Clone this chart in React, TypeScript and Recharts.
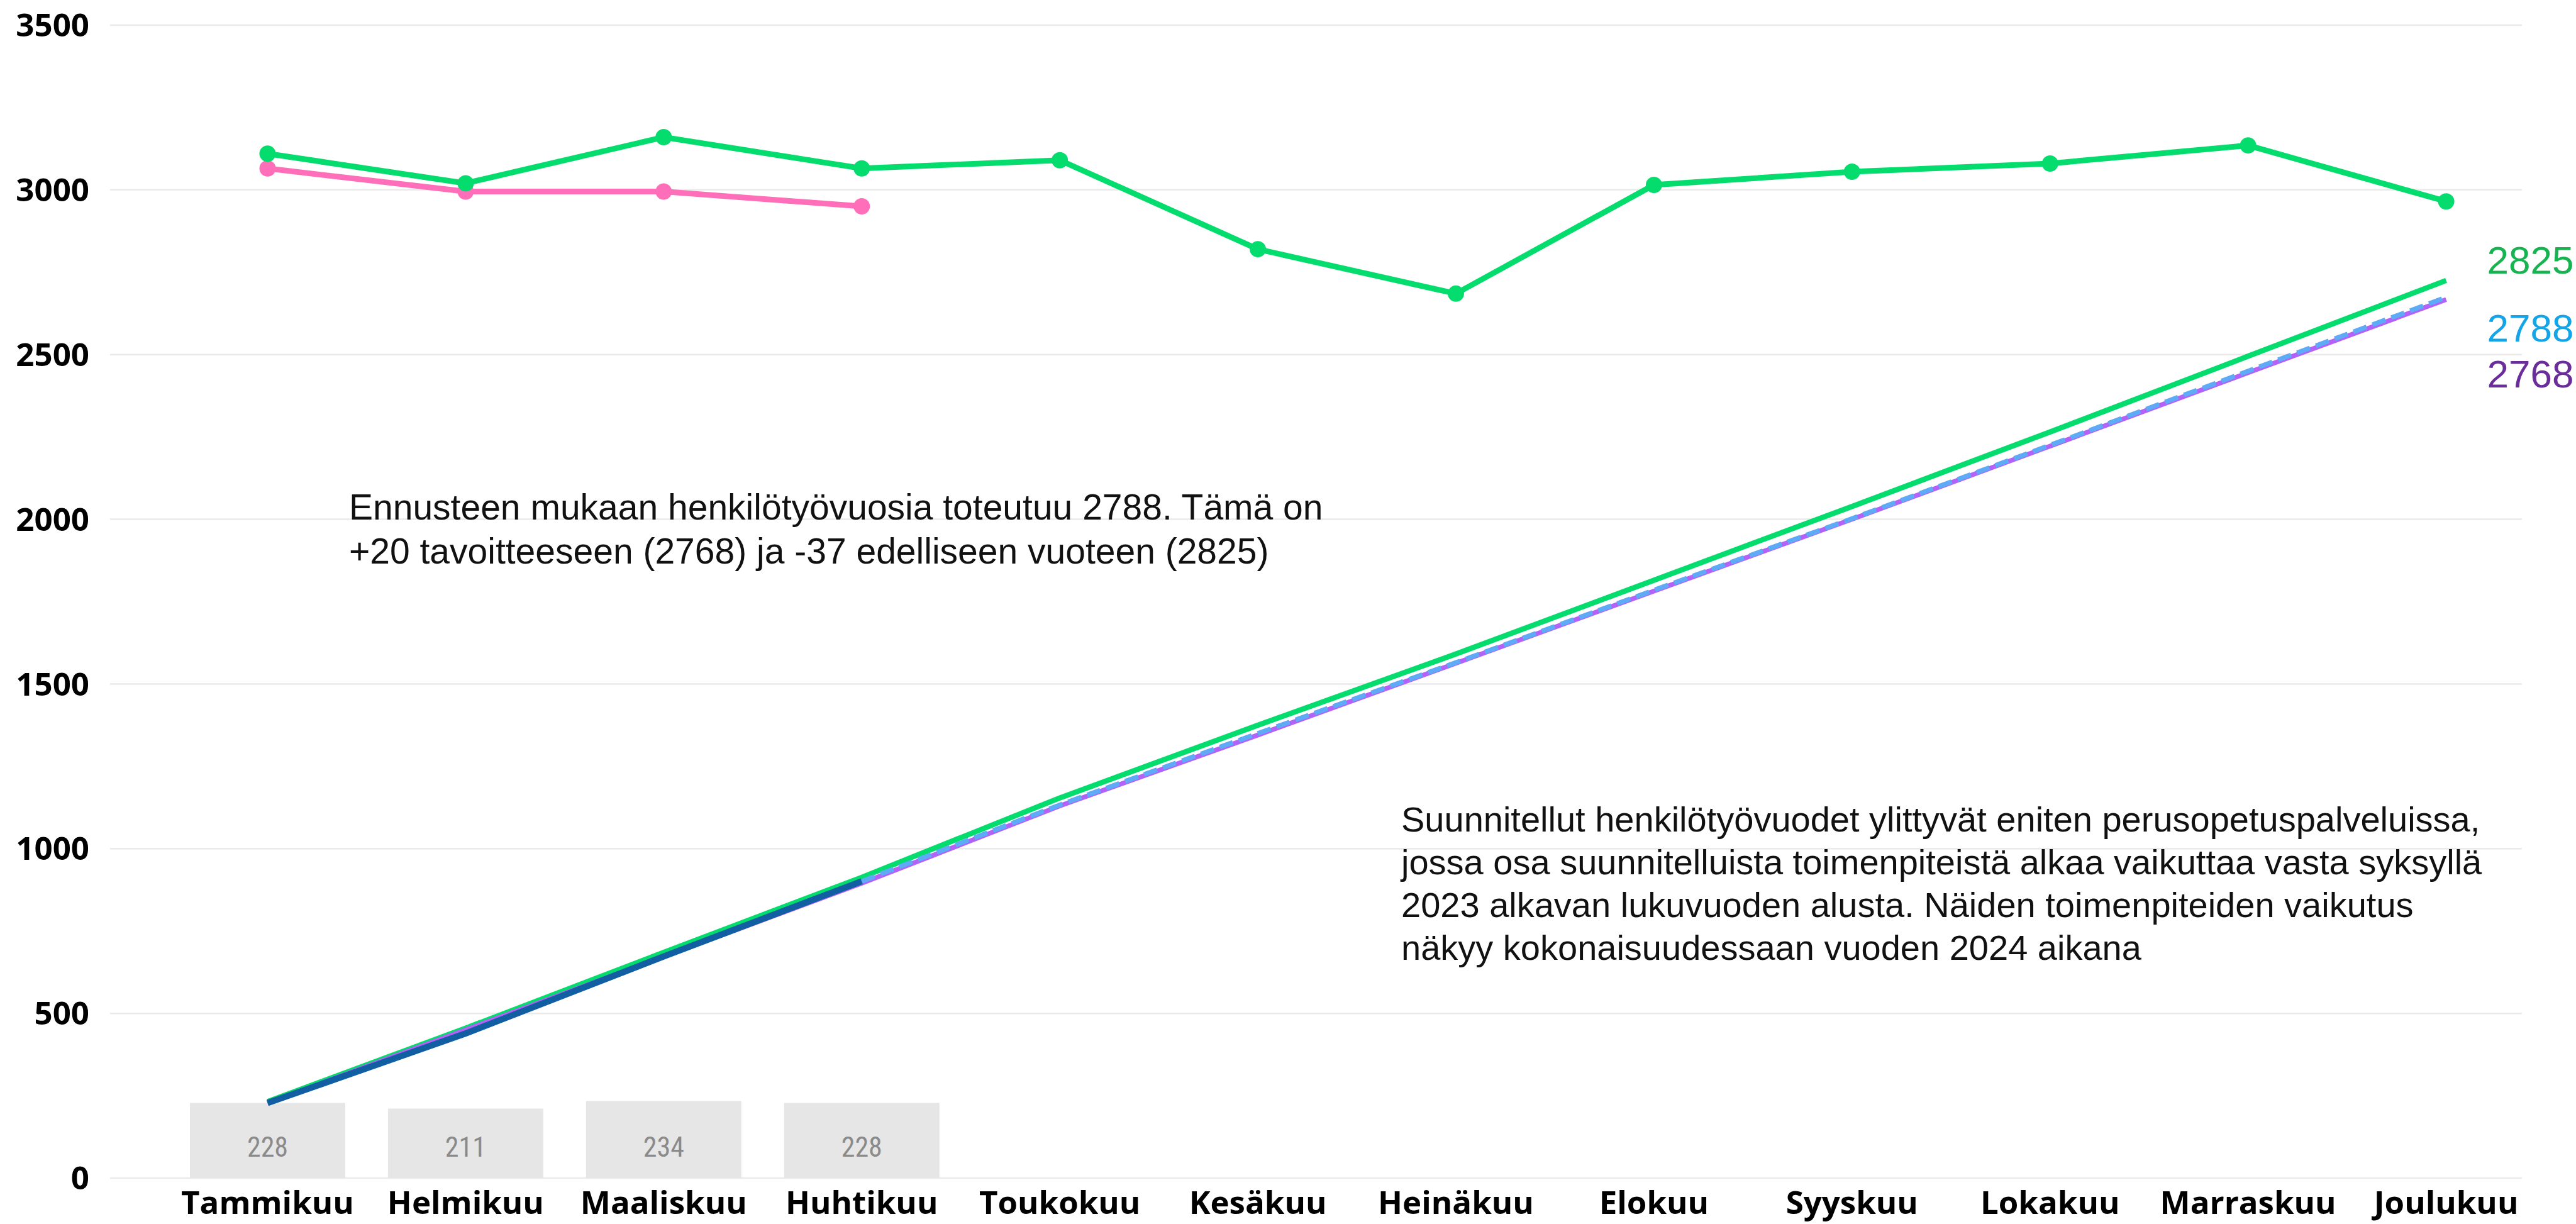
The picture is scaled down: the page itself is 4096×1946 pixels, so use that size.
import React from 'react';
import {
  ComposedChart, Bar, Line, XAxis, YAxis, CartesianGrid, LabelList,
} from 'recharts';

document.body.style.margin = '0';

const months = [
  'Tammikuu', 'Helmikuu', 'Maaliskuu', 'Huhtikuu', 'Toukokuu', 'Kesäkuu',
  'Heinäkuu', 'Elokuu', 'Syyskuu', 'Lokakuu', 'Marraskuu', 'Joulukuu',
];

// monthly person-years, this year (bars) and both years' monthly lines
const monthlyActual = [228, 211, 234, 228];
const prevYearMonthly = [3110, 3020, 3160, 3065, 3090, 2820, 2685, 3015, 3055, 3080, 3135, 2965];
const currentMonthly = [3065, 2995, 2995, 2950];

// cumulative lines
const prevYearCumulative = [232, 455, 685, 913, 1154, 1375, 1591, 1815, 2039, 2265, 2495, 2725];
const targetCumulative = [228, 450, 672, 895, 1130, 1345, 1563, 1782, 2000, 2222, 2445, 2667];
const actualCumulative = [228, 439, 673, 901];
const forecastCumulative = [null, null, null, 901, 1133, 1350, 1565, 1785, 2002, 2225, 2450, 2674];

// year totals shown at the end of the cumulative lines
const prevYearTotal = 2825;
const forecastTotal = 2788;
const targetTotal = 2768;

const yTicks = [0, 500, 1000, 1500, 2000, 2500, 3000, 3500];

const data = months.map((m, i) => ({
  month: m,
  bar: monthlyActual[i] ?? null,
  prevMonthly: prevYearMonthly[i],
  curMonthly: currentMonthly[i] ?? null,
  prevCum: prevYearCumulative[i],
  targetCum: targetCumulative[i],
  actualCum: actualCumulative[i] ?? null,
  forecastCum: forecastCumulative[i],
}));

const GREEN = '#05DC6E';
const PINK = '#FF6EB8';
const PURPLE = '#B262F8';
const LIGHT_BLUE = '#5EAAF6';
const DARK_BLUE = '#125EA3';

// label drawn only at the last point of a line, shifted off to the right
function endLabel(text: number, color: string, dy: number) {
  return (props: any) => {
    const { x, y, index } = props;
    if (index !== months.length - 1) return null;
    return (
      <text
        x={x + 65}
        y={y + dy}
        fill={color}
        fontSize={62}
        fontFamily="'Liberation Sans', Arial, sans-serif"
        dominantBaseline="central"
      >
        {text}
      </text>
    );
  };
}

const noteStyle: React.CSSProperties = {
  position: 'absolute',
  fontFamily: "'Liberation Sans', Arial, sans-serif",
  fontSize: 56,
  lineHeight: '70px',
  color: '#111',
  whiteSpace: 'nowrap',
};

const axisFont = { fill: '#000', fontSize: 51, fontWeight: 700, fontFamily: "'Open Sans', sans-serif" };

export default function App() {
  return (
    <div style={{ position: 'relative', width: 4096, height: 1946, background: '#fff', overflow: 'hidden' }}>
      <ComposedChart
        width={4096}
        height={1946}
        data={data}
        margin={{ top: 40, right: 49, left: 0, bottom: 0 }}
      >
        <CartesianGrid vertical={false} stroke="#EAEAEA" strokeWidth={2.5} width={3835} />
        <XAxis
          dataKey="month"
          height={73}
          axisLine={false}
          tickLine={false}
          tickSize={0}
          tickMargin={21}
          padding={{ left: 93, right: 0 }}
          interval={0}
          tick={axisFont}
        />
        <YAxis
          width={175}
          domain={[0, 3500]}
          ticks={yTicks}
          axisLine={false}
          tickLine={false}
          tickSize={0}
          tickMargin={33}
          tick={axisFont}
        />

        <Bar dataKey="bar" fill="#E6E6E6" barSize={247} isAnimationActive={false}>
          <LabelList
            dataKey="bar"
            position="insideBottom"
            offset={34}
            fill="#8A8A8A"
            fontSize={44}
            fontFamily="'Liberation Sans Narrow', 'Roboto Condensed', 'Liberation Sans', sans-serif"
          />
        </Bar>

        <Line dataKey="prevCum" stroke={GREEN} strokeWidth={8.5} dot={false} isAnimationActive={false}>
          <LabelList dataKey="prevCum" content={endLabel(prevYearTotal, '#16B350', -32)} />
        </Line>
        <Line dataKey="targetCum" stroke={PURPLE} strokeWidth={7.5} dot={false} isAnimationActive={false}>
          <LabelList dataKey="targetCum" content={endLabel(targetTotal, '#6A2D9A', 118)} />
        </Line>
        <Line
          dataKey="forecastCum"
          stroke={LIGHT_BLUE}
          strokeWidth={7.5}
          strokeDasharray="22 10"
          dot={false}
          isAnimationActive={false}
        >
          <LabelList dataKey="forecastCum" content={endLabel(forecastTotal, '#14A5E8', 49)} />
        </Line>
        <Line dataKey="actualCum" stroke={DARK_BLUE} strokeWidth={10} dot={false} isAnimationActive={false} />

        <Line
          dataKey="curMonthly"
          stroke={PINK}
          strokeWidth={9}
          dot={{ r: 13, fill: PINK, stroke: 'none' }}
          isAnimationActive={false}
        />
        <Line
          dataKey="prevMonthly"
          stroke={GREEN}
          strokeWidth={9}
          dot={{ r: 13, fill: GREEN, stroke: 'none' }}
          isAnimationActive={false}
        />
      </ComposedChart>

      <div style={{ ...noteStyle, left: 555, top: 771, fontSize: 57 }}>
        Ennusteen mukaan henkilötyövuosia toteutuu 2788. Tämä on<br />
        +20 tavoitteeseen (2768) ja -37 edelliseen vuoteen (2825)
      </div>
      <div style={{ ...noteStyle, left: 2228, top: 1269, lineHeight: '68px' }}>
        Suunnitellut henkilötyövuodet ylittyvät eniten perusopetuspalveluissa,<br />
        jossa osa suunnitelluista toimenpiteistä alkaa vaikuttaa vasta syksyllä<br />
        2023 alkavan lukuvuoden alusta. Näiden toimenpiteiden vaikutus<br />
        näkyy kokonaisuudessaan vuoden 2024 aikana
      </div>
    </div>
  );
}
